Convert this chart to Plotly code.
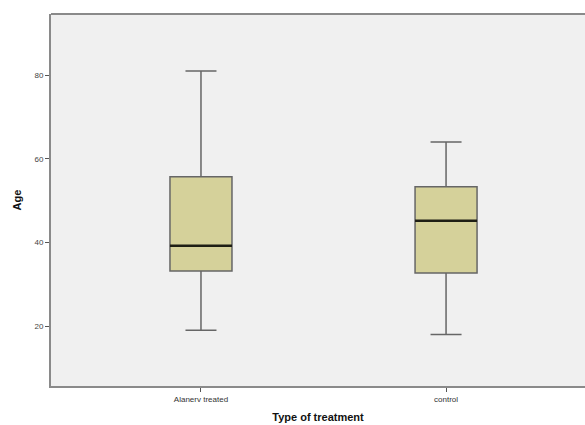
import plotly.graph_objects as go

categories = ["Alanerv treated", "control"]
lower_whisker = [19, 18]
q1_values = [33.2, 32.7]
medians = [39.2, 45.2]
q3_values = [55.7, 53.3]
upper_whisker = [81, 64]
y_ticks = [20, 40, 60, 80]

box_width = 0.253
fill_color = "#D5D19A"
outline = "#666666"

fig = go.Figure()
fig.add_trace(go.Box(
    x=[0, 1],
    q1=q1_values, median=medians, q3=q3_values,
    lowerfence=lower_whisker, upperfence=upper_whisker,
    width=box_width, whiskerwidth=0.5,
    fillcolor=fill_color,
    line=dict(color=outline, width=1.5),
    boxpoints=False, hoverinfo="skip", showlegend=False,
))

# thicker, darker median lines
for i, m in enumerate(medians):
    fig.add_shape(type="line", xref="x", yref="y",
                  x0=i - box_width / 2, x1=i + box_width / 2, y0=m, y1=m,
                  line=dict(color="#1e1e14", width=2.5))

# top frame line
fig.add_shape(type="line", xref="paper", yref="paper", x0=0, x1=1, y0=1, y1=1,
              line=dict(color="#8a8a8a", width=2))

fig.update_layout(
    width=585, height=425,
    margin=dict(l=51, r=0, t=14, b=39),
    paper_bgcolor="white", plot_bgcolor="#F0F0F0",
    font=dict(family="Liberation Sans, Arial, sans-serif", color="#333"),
    xaxis=dict(
        range=[-0.612, 1.567], tickmode="array", tickvals=[0, 1], ticktext=categories,
        showgrid=False, zeroline=False, showline=True, linecolor="#8a8a8a", linewidth=2,
        ticks="outside", ticklen=4, tickcolor="#555", tickfont=dict(size=8, color="#333"),
        title=dict(text="<b>Type of treatment</b>", font=dict(size=11, color="#111"), standoff=11),
    ),
    yaxis=dict(
        range=[5.7, 94.6], tickmode="array", tickvals=y_ticks,
        showgrid=False, zeroline=False, showline=True, linecolor="#8a8a8a", linewidth=2,
        ticks="outside", ticklen=4, tickcolor="#555", tickfont=dict(size=8, color="#444"),
        title=dict(text="<b>Age</b>", font=dict(size=11, color="#111"), standoff=11),
    ),
)

fig.write_html("out.html", config={"displayModeBar": False},
               post_script="document.body.style.margin='0';document.body.style.overflow='hidden';")
